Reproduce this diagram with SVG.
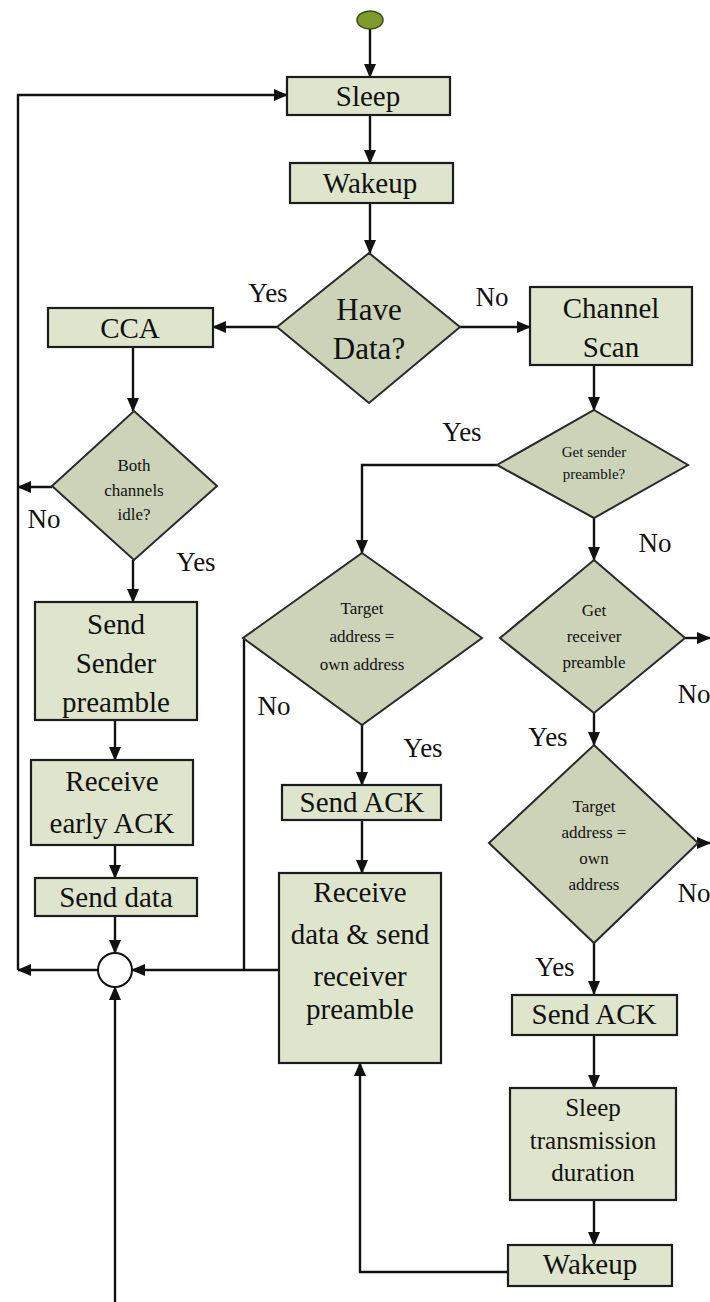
<svg xmlns="http://www.w3.org/2000/svg" width="710" height="1302" viewBox="0 0 710 1302" font-family="Liberation Serif, Times New Roman, serif">
  <defs>
    <marker id="arr" markerWidth="14" markerHeight="12" refX="13" refY="6" orient="auto" markerUnits="userSpaceOnUse">
      <path d="M0,0 L14,6 L0,12 Z" fill="#111"/>
    </marker>
    <style>
      .box { fill: #dfe5cc; stroke: #1c1c1c; stroke-width: 2.2; }
      .dia { fill: #ccd3b8; stroke: #2a2a2a; stroke-width: 2; }
      .ln { fill: none; stroke: #111; stroke-width: 2.4; }
      .ar { fill: none; stroke: #111; stroke-width: 2.4; marker-end: url(#arr); }
      .txt text { fill: #111; text-anchor: middle; }
      .t { font-size: 29px; }
      .tl { font-size: 31px; }
      .lab { font-size: 27px; }
      .s { font-size: 17px; }
      .xs { font-size: 15px; }
      .m { font-size: 25px; }
    </style>
  </defs>
  <rect width="710" height="1302" fill="#ffffff"/>

  <!-- connectors -->
  <g id="connectors">
    <path class="ar" d="M370,29 V77"/>
    <path class="ar" d="M370,115 V163"/>
    <path class="ar" d="M370,203 V253"/>
    <path class="ar" d="M277,327 H213"/>
    <path class="ar" d="M460,327 H530"/>
    <path class="ar" d="M133,347 V411"/>
    <path class="ar" d="M52,487 H18"/>
    <path class="ar" d="M133,560 V602"/>
    <path class="ar" d="M115,720 V760"/>
    <path class="ar" d="M115,845 V878"/>
    <path class="ar" d="M115,916 V953"/>
    <path class="ar" d="M98,970 H18"/>
    <path class="ar" d="M18,970 V95 H287"/>
    <path class="ar" d="M115,1302 V987"/>
    <path class="ar" d="M279,970 H132"/>
    <path class="ln" d="M244,638 V970"/>
    <path class="ar" d="M497,465 H362 V553"/>
    <path class="ar" d="M362,725 V785"/>
    <path class="ar" d="M362,820 V873"/>
    <path class="ar" d="M508,1272 H360 V1063"/>
    <path class="ar" d="M594,365 V410"/>
    <path class="ar" d="M594,518 V560"/>
    <path class="ar" d="M685,638 H710"/>
    <path class="ar" d="M594,713 V745"/>
    <path class="ar" d="M698,843 H710"/>
    <path class="ar" d="M594,943 V994"/>
    <path class="ar" d="M594,1035 V1088"/>
    <path class="ar" d="M594,1200 V1245"/>
  </g>

  <!-- branch labels -->
  <g id="labels" class="txt">
    <text class="lab" x="268" y="302">Yes</text>
    <text class="lab" x="492" y="306">No</text>
    <text class="lab" x="44" y="528">No</text>
    <text class="lab" x="196" y="571">Yes</text>
    <text class="lab" x="462" y="441">Yes</text>
    <text class="lab" x="655" y="552">No</text>
    <text class="lab" x="274" y="715">No</text>
    <text class="lab" x="423" y="757">Yes</text>
    <text class="lab" x="548" y="746">Yes</text>
    <text class="lab" x="694" y="703">No</text>
    <text class="lab" x="694" y="902">No</text>
    <text class="lab" x="555" y="976">Yes</text>
  </g>

  <g id="start">
    <ellipse cx="370" cy="20" rx="13" ry="9" fill="#7e9b2c" stroke="#3d4d14" stroke-width="1.5"/>
  </g>

  <g id="sleep" class="txt">
    <rect class="box" x="287" y="77" width="163" height="38"/>
    <text class="t" x="368" y="106">Sleep</text>
  </g>

  <g id="wakeup" class="txt">
    <rect class="box" x="290" y="163" width="163" height="40"/>
    <text class="t" x="370" y="193">Wakeup</text>
  </g>

  <g id="have-data" class="txt">
    <polygon class="dia" points="369,253 460,327 369,403 277,327"/>
    <text class="tl" x="369" y="320">Have</text>
    <text class="tl" x="369" y="359">Data?</text>
  </g>

  <g id="cca" class="txt">
    <rect class="box" x="48" y="308" width="165" height="39"/>
    <text class="t" x="130" y="338">CCA</text>
  </g>

  <g id="channel-scan" class="txt">
    <rect class="box" x="530" y="287" width="162" height="78"/>
    <text class="t" x="611" y="318">Channel</text>
    <text class="t" x="611" y="357">Scan</text>
  </g>

  <g id="both-idle" class="txt">
    <polygon class="dia" points="134,411 217,486 134,560 52,486"/>
    <text class="s" x="134" y="471">Both</text>
    <text class="s" x="134" y="496">channels</text>
    <text class="s" x="134" y="520">idle?</text>
  </g>

  <g id="send-sender-preamble" class="txt">
    <rect class="box" x="35" y="602" width="162" height="118"/>
    <text class="t" x="116" y="634">Send</text>
    <text class="t" x="116" y="673">Sender</text>
    <text class="t" x="116" y="712">preamble</text>
  </g>

  <g id="receive-early-ack" class="txt">
    <rect class="box" x="31" y="760" width="162" height="85"/>
    <text class="t" x="112" y="791">Receive</text>
    <text class="t" x="112" y="833">early ACK</text>
  </g>

  <g id="send-data" class="txt">
    <rect class="box" x="35" y="878" width="162" height="38"/>
    <text class="t" x="116" y="907">Send data</text>
  </g>

  <g id="merge">
    <circle cx="115" cy="970" r="17" fill="#ffffff" stroke="#111" stroke-width="2"/>
  </g>

  <g id="get-sender-preamble" class="txt">
    <polygon class="dia" points="594,410 688,465 594,518 497,465"/>
    <text class="xs" x="594" y="457">Get sender</text>
    <text class="xs" x="594" y="479">preamble?</text>
  </g>

  <g id="target-own-left" class="txt">
    <polygon class="dia" points="362,553 482,638 362,725 243,638"/>
    <text class="s" x="362" y="614">Target</text>
    <text class="s" x="362" y="642">address =</text>
    <text class="s" x="362" y="670">own address</text>
  </g>

  <g id="send-ack-left" class="txt">
    <rect class="box" x="282" y="785" width="159" height="35"/>
    <text class="t" x="362" y="812">Send ACK</text>
  </g>

  <g id="receive-data" class="txt">
    <rect class="box" x="279" y="873" width="162" height="190"/>
    <text class="t" x="360" y="902">Receive</text>
    <text class="t" x="360" y="944">data &amp; send</text>
    <text class="t" x="360" y="986">receiver</text>
    <text class="t" x="360" y="1019">preamble</text>
  </g>

  <g id="get-receiver-preamble" class="txt">
    <polygon class="dia" points="594,560 685,638 594,713 500,638"/>
    <text class="s" x="594" y="616">Get</text>
    <text class="s" x="594" y="642">receiver</text>
    <text class="s" x="594" y="668">preamble</text>
  </g>

  <g id="target-own-right" class="txt">
    <polygon class="dia" points="594,745 698,843 594,943 489,843"/>
    <text class="s" x="594" y="812">Target</text>
    <text class="s" x="594" y="838">address =</text>
    <text class="s" x="594" y="864">own</text>
    <text class="s" x="594" y="890">address</text>
  </g>

  <g id="send-ack-right" class="txt">
    <rect class="box" x="512" y="995" width="165" height="40"/>
    <text class="t" x="594" y="1024">Send ACK</text>
  </g>

  <g id="sleep-transmission" class="txt">
    <rect class="box" x="510" y="1088" width="166" height="112"/>
    <text class="m" x="593" y="1116">Sleep</text>
    <text class="m" x="593" y="1149">transmission</text>
    <text class="m" x="593" y="1181">duration</text>
  </g>

  <g id="wakeup-2" class="txt">
    <rect class="box" x="508" y="1245" width="164" height="41"/>
    <text class="t" x="590" y="1274">Wakeup</text>
  </g>
</svg>
